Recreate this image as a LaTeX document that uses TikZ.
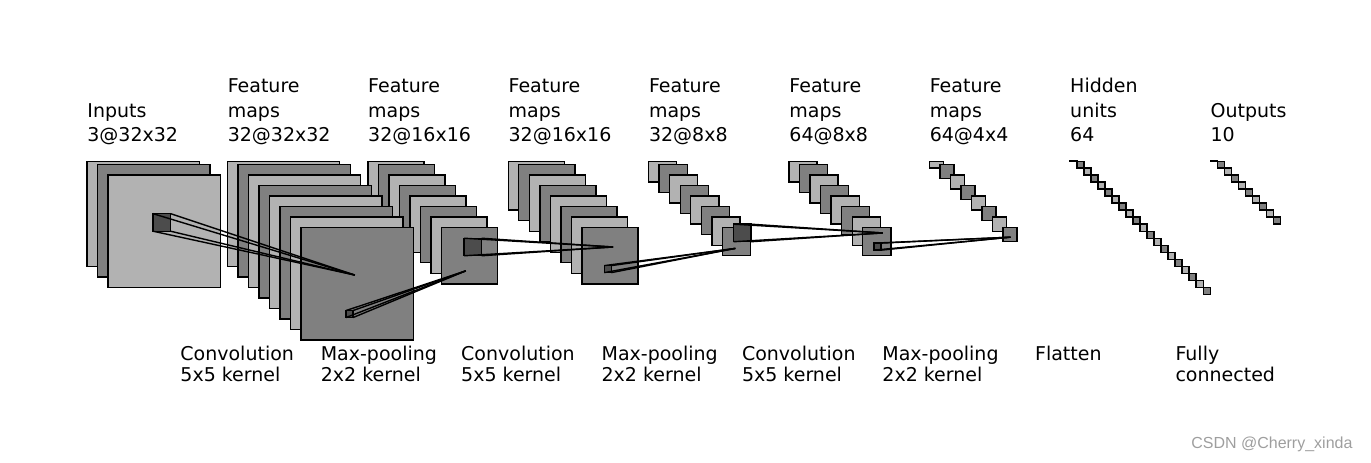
\documentclass[tikz,border=0pt]{standalone}
\usepackage{fontspec}
\setmainfont{DejaVu Sans}
\newfontfamily\wmfont{Liberation Sans}
\usepackage{tikz}
\usetikzlibrary{positioning}
\colorlet{light}{black!30}
\colorlet{medium}{black!50}
\colorlet{dark}{black!70}
\tikzset{fmap/.style = {draw=black,line width=0.7pt},
         patch/.style = {rectangle,draw=black,fill=dark,line width=0.7pt,inner sep=0pt,outer sep=0pt,anchor=south west},
         toplbl/.style = {anchor=base west,align=left,inner sep=0pt,font=\fontsize{9.5pt}{12.2pt}\selectfont},
         botlbl/.style = {anchor=base west,align=left,inner sep=0pt,font=\fontsize{9.5pt}{10.75pt}\selectfont}}

\begin{document}
\begin{tikzpicture}[x=1.755pt,y=1.755pt]
                \useasboundingbox (-24.79,-88.03) rectangle (365.81,43.87);
                % layers, back to front
                \foreach \i/\s/\n/\off in {8/2/10/2, 7/2/20/2, 6/4/8/3, 5/8/8/3, 4/8/8/3, 3/16/8/3, 2/16/8/3, 1/32/8/3, 0/32/3/3} {
                    \pgfmathtruncatemacro\last{\n-1}
                    \foreach \k in {0,...,\last} {
                        \pgfmathsetmacro\x{40*\i+\off*\k}
                        \pgfmathsetmacro\y{min(-\off*\k,-2.1)}
                        \pgfmathsetmacro\b{-\off*\k-\s}
                        \ifodd\k\relax \def\fc{medium}\else \def\fc{light}\fi
                        \draw [fmap,fill=\fc] (\x,\y) rectangle (\x+\s,\b);
                    }
                }
                % kernels and their lines
                \foreach \i/\s/\t/\p/\ra/\rb/\n in {0/32/32/5/.4/.5/3, 1/32/16/2/.4/.8/8, 2/16/16/5/.4/.5/8, 3/16/8/2/.4/.8/8, 4/8/8/5/.4/.5/8, 5/8/4/2/.4/.8/8} {
                    \pgfmathsetmacro\sx{40*\i+3*(\n-1)+\ra*\s}
                    \pgfmathsetmacro\sy{-3*(\n-1)-\rb*\s}
                    \pgfmathsetmacro\ex{40*(\i+1)+21+(\ra+.5*\p/\s)*\t}
                    \pgfmathsetmacro\ey{-21-(\rb-.5*\p/\s)*\t}
                    \node [patch,minimum size=\p*1.755pt] (k\i) at (\sx,\sy) {};
                    \coordinate (e\i) at (\ex,\ey);
                    \foreach \a in {north west,north east,south west,south east}
                        \draw [fmap] (k\i.\a) -- (e\i);
                }
                % labels
                \node [toplbl] (in) at (0,3.56) {Inputs\\3@32x32};
                \foreach \i/\txt in {1/32@32x32, 2/32@16x16, 3/32@16x16, 4/32@8x8, 5/64@8x8, 6/64@4x4}
                    \node [toplbl] (f\i) at (40*\i,3.56) {Feature\\maps\\\txt};
                \node [toplbl] (hid) at (280,3.56) {Hidden\\units\\64};
                \node [toplbl] (out) at (320,3.56) {Outputs\\10};
                \foreach \i/\op/\ks in {0/Convolution/5x5, 1/Max-pooling/2x2, 2/Convolution/5x5, 3/Max-pooling/2x2, 4/Convolution/5x5, 5/Max-pooling/2x2}
                    \node [botlbl] (op\i) at (26.5+40*\i,-64.9) {\op\\\ks{} kernel};
                \node [botlbl] (flat) at (270,-58.7) {Flatten};
                \node [botlbl] (fc) at (310,-64.9) {Fully\\connected};
                \node [anchor=base west,inner sep=0pt,text=black!38,font=\wmfont\fontsize{8pt}{9pt}\selectfont] (wm) at (314.5,-83.8) {CSDN @Cherry\_xinda};
            \end{tikzpicture}
\end{document}
